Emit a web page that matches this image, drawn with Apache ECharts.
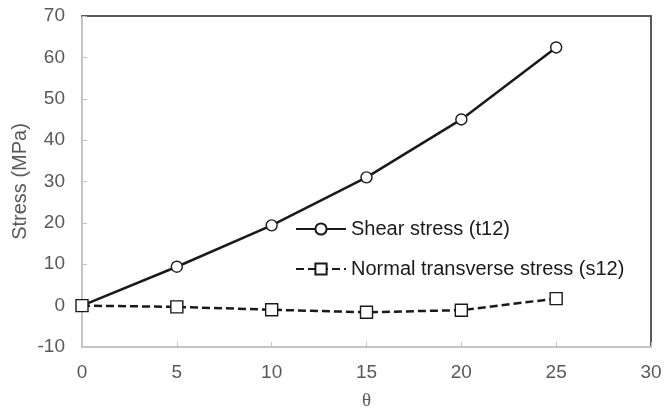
<!DOCTYPE html>
<html>
<head>
<meta charset="utf-8">
<script src="https://cdn.jsdelivr.net/npm/echarts@6/dist/echarts.min.js"></script>
<style>
  html, body { margin: 0; padding: 0; background: #fff; }
  #main { width: 664px; height: 414px; }
</style>
</head>
<body>
<div id="main"></div>
<script>
// angle theta (deg) and stresses (MPa)
const theta = [0, 5, 10, 15, 20, 25];
const shearStress = [0, 9.4, 19.4, 31.0, 45.0, 62.4];
const normalStress = [0, -0.3, -1.0, -1.6, -1.1, 1.7];

const toPairs = (xs, ys) => xs.map((x, i) => [x, ys[i]]);

var myChart = echarts.init(document.getElementById('main'));
var option;

const gray = '#595959';
const light = '#c4c4c4';
const ink = '#1a1a1a';
const sans = 'Liberation Sans, Arial, sans-serif';

option = {
  animation: false,
  grid: { left: 82, top: 16, right: 13, bottom: 67, containLabel: false, outerBoundsMode: 'none' },
  legend: {
    orient: 'vertical',
    left: 295,
    top: 219,
    padding: 0,
    itemWidth: 50,
    itemHeight: 14,
    itemGap: 20,
    textStyle: { fontFamily: sans, fontSize: 20, lineHeight: 20, color: ink },
    data: ['Shear stress (t12)', 'Normal transverse stress (s12)']
  },
  xAxis: [
    {
      type: 'value',
      min: 0, max: 30, interval: 5,
      name: 'θ',
      nameLocation: 'middle',
      nameGap: 45,
      nameTextStyle: { fontFamily: 'Liberation Serif, Times New Roman, serif', fontSize: 19, color: gray },
      axisLine: { onZero: false, lineStyle: { color: light, width: 2 } },
      axisTick: { inside: true, length: 5, lineStyle: { color: light } },
      axisLabel: { margin: 16, fontFamily: sans, fontSize: 19, color: gray },
      splitLine: { show: false }
    },
    {
      type: 'value',
      position: 'top',
      min: 0, max: 30, interval: 5,
      axisLine: { show: true, onZero: false, lineStyle: { color: gray, width: 2 } },
      axisTick: { show: false },
      axisLabel: { show: false },
      splitLine: { show: false }
    }
  ],
  yAxis: [
    {
      type: 'value',
      min: -10, max: 70, interval: 10,
      name: 'Stress (MPa)',
      nameLocation: 'middle',
      nameGap: 52,
      nameMoveOverlap: false,
      nameTextStyle: { fontFamily: sans, fontSize: 20, color: gray },
      axisLine: { show: true, onZero: false, lineStyle: { color: light, width: 2 } },
      axisTick: { show: true, inside: true, length: 5, lineStyle: { color: light } },
      axisLabel: { margin: 17, fontFamily: sans, fontSize: 19, color: gray },
      splitLine: { show: false }
    },
    {
      type: 'value',
      position: 'right',
      min: -10, max: 70, interval: 10,
      axisLine: { show: true, onZero: false, lineStyle: { color: gray, width: 2 } },
      axisTick: { show: false },
      axisLabel: { show: false },
      splitLine: { show: false }
    }
  ],
  series: [
    {
      name: 'Shear stress (t12)',
      type: 'line',
      data: toPairs(theta, shearStress),
      symbol: 'circle',
      symbolSize: 11,
      lineStyle: { color: ink, width: 2.5 },
      itemStyle: { color: '#fff', borderColor: ink, borderWidth: 1.4 },
      z: 3
    },
    {
      name: 'Normal transverse stress (s12)',
      type: 'line',
      data: toPairs(theta, normalStress),
      symbol: 'rect',
      symbolSize: 12,
      lineStyle: { color: ink, width: 2.5, type: [8, 4] },
      itemStyle: { color: '#fff', borderColor: ink, borderWidth: 1.4 },
      z: 4
    }
  ]
};

option && myChart.setOption(option);
</script>
</body>
</html>
